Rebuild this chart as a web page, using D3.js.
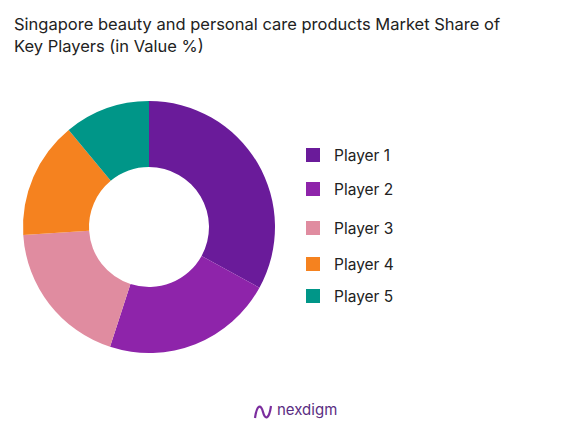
<!DOCTYPE html><html><head><script src="https://cdn.jsdelivr.net/npm/d3@7"></script>
<style>body{margin:0;background:#fff;font-family:Inter,"Noto Sans",sans-serif}</style></head><body>
<svg id="c" width="585" height="427"></svg>
<script>
const categories=["Player 1","Player 2","Player 3","Player 4","Player 5"];
const values=[33,22,19,15,11];
const colors=["#6a1b9a","#8e24aa","#e08ca0","#f5821f","#009688"];
const legendY=[155,189,228,264,296];
const svg=d3.select("#c");
svg.append("text").attr("x",14).attr("y",30).attr("font-size",16.5).attr("fill","#222").text("Singapore beauty and personal care products Market Share of");
svg.append("text").attr("x",14).attr("y",52).attr("font-size",16.5).attr("fill","#222").text("Key Players (in Value %)");
const pie=d3.pie().sort(null)(values);
const arc=d3.arc().innerRadius(60).outerRadius(126);
const g=svg.append("g").attr("transform","translate(149,227)");
g.selectAll("path").data(pie).join("path").attr("d",arc).attr("fill",(d,i)=>colors[i]);
const lg=svg.selectAll(".l").data(categories).join("g").attr("transform",(d,i)=>`translate(306,${legendY[i]})`);
lg.append("rect").attr("x",0).attr("y",-7).attr("width",14).attr("height",14).attr("fill",(d,i)=>colors[i]);
lg.append("text").attr("x",28).attr("y",6).attr("font-size",15.5).attr("fill","#222").text(d=>d);
const logo=svg.append("g").attr("transform","translate(255,410)");
logo.append("path").attr("d","M0,8 C2,-6 6,-6 8,2 C10,10 14,10 16,-4").attr("fill","none").attr("stroke","#7b2d9e").attr("stroke-width",2.2);
logo.append("text").attr("x",22).attr("y",5).attr("font-size",15).attr("fill","#5a2d82").text("nexdigm");
</script></body></html>
